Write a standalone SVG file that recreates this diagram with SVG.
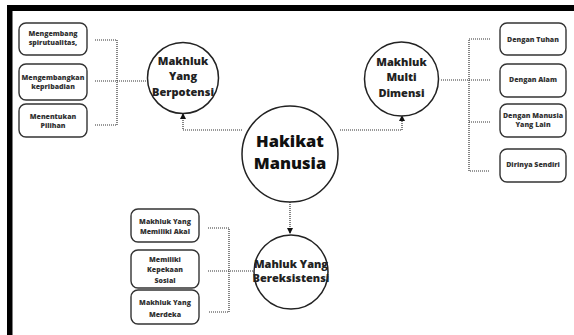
<svg xmlns="http://www.w3.org/2000/svg" width="574" height="335" viewBox="0 0 574 335">
<defs>
<style>
.frame{fill:#000}
.circ{fill:#fff;stroke:#222;stroke-width:1.5}
.box{fill:#fff;stroke:#333;stroke-width:1.4}
.big{font-family:"Open Sans","Liberation Sans",sans-serif;font-weight:800;font-size:16.5px;fill:#111;text-anchor:middle}
.mid{font-family:"Open Sans","Liberation Sans",sans-serif;font-weight:800;font-size:11px;fill:#222;text-anchor:middle}
.sm{font-family:"Open Sans","Liberation Sans",sans-serif;font-weight:800;font-size:7px;fill:#333;text-anchor:middle}
.dot{fill:none;stroke:#333;stroke-width:1.2;stroke-dasharray:1 1}
</style>
<marker id="ah" viewBox="0 0 10 10" refX="10" refY="5" markerWidth="6" markerHeight="6" orient="auto" markerUnits="userSpaceOnUse">
<path d="M0,0 L10,5 L0,10 z" fill="#111"/>
</marker>
</defs>
<rect width="574" height="335" fill="#fff"/>
<rect class="frame" x="7" y="5" width="567" height="6"/>
<rect class="frame" x="7" y="5" width="5.5" height="330"/>

<g id="connectors">
<path class="dot" d="M242,130 H183 V113" marker-end="url(#ah)"/>
<path class="dot" d="M340,130 H402 V115" marker-end="url(#ah)"/>
<path class="dot" d="M290,202 V234" marker-end="url(#ah)"/>
<path class="dot" d="M95,40 H117 V125 H95 M95,81 H146"/>
<path class="dot" d="M490,39 H469 V171 H490 M441,80 H490 M469,122 H490"/>
<path class="dot" d="M208,228 H229 V312 H208 M208,271 H253"/>
</g>

<g id="hakikat">
<circle class="circ" cx="290" cy="154" r="48"/>
<text class="big" x="290" y="147">Hakikat</text>
<text class="big" x="290" y="169">Manusia</text>
</g>

<g id="berpotensi">
<circle class="circ" cx="183" cy="78" r="35.5"/>
<text class="mid" x="183" y="65">Makhluk</text>
<text class="mid" x="183" y="80">Yang</text>
<text class="mid" x="183" y="96">Berpotensi</text>
</g>

<g id="multidimensi">
<circle class="circ" cx="401.5" cy="79" r="37"/>
<text class="mid" x="401.5" y="66">Makhluk</text>
<text class="mid" x="401.5" y="81">Multi</text>
<text class="mid" x="401.5" y="97">Dimensi</text>
</g>

<g id="bereksistensi">
<circle class="circ" cx="291" cy="272" r="37"/>
<text class="mid" x="291" y="268">Mahluk Yang</text>
<text class="mid" x="291" y="282">Bereksistensi</text>
</g>

<g id="box-spiritualitas">
<rect class="box" x="19" y="23" width="68" height="32" rx="7"/>
<text class="sm" x="53" y="36">Mengembang</text>
<text class="sm" x="53" y="45">spirutualitas,</text>
</g>
<g id="box-kepribadian">
<rect class="box" x="19" y="64" width="68" height="36" rx="7"/>
<text class="sm" x="53" y="80">Mengembangkan</text>
<text class="sm" x="53" y="89">kepribadian</text>
</g>
<g id="box-pilihan">
<rect class="box" x="19" y="104" width="68" height="33" rx="7"/>
<text class="sm" x="53" y="119">Menentukan</text>
<text class="sm" x="53" y="128">Pilihan</text>
</g>

<g id="box-tuhan">
<rect class="box" x="500" y="23" width="66" height="32" rx="7"/>
<text class="sm" x="533" y="41.5">Dengan Tuhan</text>
</g>
<g id="box-alam">
<rect class="box" x="500" y="64" width="66" height="33" rx="7"/>
<text class="sm" x="533" y="82">Dengan Alam</text>
</g>
<g id="box-manusia">
<rect class="box" x="500" y="104" width="66" height="33" rx="7"/>
<text class="sm" x="533" y="118">Dengan Manusia</text>
<text class="sm" x="533" y="127">Yang Lain</text>
</g>
<g id="box-sendiri">
<rect class="box" x="500" y="149" width="66" height="33" rx="7"/>
<text class="sm" x="533" y="167">Dirinya Sendiri</text>
</g>

<g id="box-akal">
<rect class="box" x="131" y="209" width="68" height="33" rx="7"/>
<text class="sm" x="165" y="224">Makhluk Yang</text>
<text class="sm" x="165" y="234">Memiliki Akal</text>
</g>
<g id="box-sosial">
<rect class="box" x="131" y="250" width="68" height="38" rx="7"/>
<text class="sm" x="165" y="262">Memiliki</text>
<text class="sm" x="165" y="272">Kepekaan</text>
<text class="sm" x="165" y="283">Sosial</text>
</g>
<g id="box-merdeka">
<rect class="box" x="131" y="290" width="68" height="34" rx="7"/>
<text class="sm" x="165" y="305">Makhluk Yang</text>
<text class="sm" x="165" y="317">Merdeka</text>
</g>
</svg>
